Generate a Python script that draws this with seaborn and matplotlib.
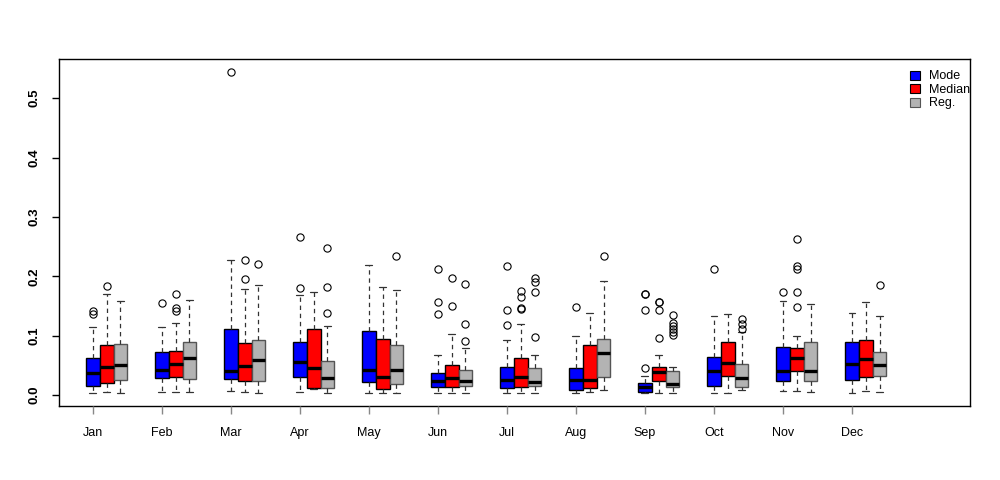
import matplotlib
matplotlib.use("Agg")
import matplotlib.pyplot as plt
from matplotlib.patches import Patch
import seaborn as sns

sns.set_style("ticks", {"axes.axisbelow": False})
plt.rcParams['font.family'] = ['Liberation Sans', 'DejaVu Sans']
plt.rcParams['text.color'] = 'black'
plt.rcParams['xtick.color'] = 'black'
plt.rcParams['ytick.color'] = 'black'

months = ["Jan", "Feb", "Mar", "Apr", "May", "Jun", "Jul", "Aug", "Sep", "Oct", "Nov", "Dec"]
series_names = ["Mode", "Median", "Reg."]
series_colors = ["#0000FF", "#FF0000", "#B3B3B3"]

# Mode
mode_lo = [0.003, 0.006, 0.007, 0.005, 0.003, 0.003, 0.003, 0.003, 0.004, 0.003, 0.007, 0.003]
mode_q1 = [0.016, 0.028, 0.027, 0.031, 0.022, 0.014, 0.012, 0.008, 0.006, 0.015, 0.024, 0.025]
mode_med = [0.038, 0.043, 0.041, 0.055, 0.042, 0.024, 0.025, 0.025, 0.013, 0.041, 0.041, 0.052]
mode_q3 = [0.062, 0.073, 0.112, 0.090, 0.108, 0.038, 0.047, 0.045, 0.021, 0.064, 0.081, 0.089]
mode_hi = [0.114, 0.114, 0.228, 0.168, 0.219, 0.068, 0.092, 0.100, 0.032, 0.134, 0.158, 0.139]
mode_out = [[0.142, 0.136], [0.155], [0.545], [0.181, 0.267], [], [0.137, 0.157, 0.212],
            [0.118, 0.144, 0.217], [0.149], [0.045, 0.143, 0.170, 0.171], [0.213], [0.173], []]

# Median
median_lo = [0.005, 0.006, 0.005, 0.010, 0.003, 0.003, 0.003, 0.005, 0.003, 0.003, 0.007, 0.007]
median_q1 = [0.020, 0.030, 0.023, 0.012, 0.010, 0.014, 0.014, 0.012, 0.024, 0.032, 0.041, 0.030]
median_med = [0.048, 0.053, 0.049, 0.046, 0.031, 0.029, 0.030, 0.025, 0.039, 0.054, 0.063, 0.060]
median_q3 = [0.084, 0.074, 0.088, 0.111, 0.094, 0.050, 0.063, 0.085, 0.048, 0.089, 0.080, 0.093]
median_hi = [0.170, 0.122, 0.178, 0.173, 0.182, 0.103, 0.119, 0.139, 0.067, 0.136, 0.099, 0.156]
median_out = [[0.184], [0.170, 0.147, 0.142], [0.228, 0.195], [], [], [0.150, 0.198],
              [0.145, 0.146, 0.166, 0.175], [], [0.097, 0.143, 0.157, 0.156], [],
              [0.148, 0.174, 0.218, 0.213, 0.263], []]

# Reg.
reg_lo = [0.003, 0.005, 0.003, 0.003, 0.003, 0.003, 0.003, 0.008, 0.004, 0.008, 0.005, 0.006]
reg_q1 = [0.025, 0.027, 0.023, 0.012, 0.018, 0.015, 0.015, 0.030, 0.014, 0.014, 0.024, 0.033]
reg_med = [0.051, 0.063, 0.059, 0.029, 0.042, 0.024, 0.022, 0.071, 0.019, 0.028, 0.040, 0.051]
reg_q3 = [0.086, 0.089, 0.093, 0.058, 0.084, 0.043, 0.046, 0.095, 0.040, 0.052, 0.089, 0.073]
reg_hi = [0.158, 0.161, 0.186, 0.117, 0.177, 0.079, 0.067, 0.192, 0.048, 0.106, 0.153, 0.133]
reg_out = [[], [], [0.221], [0.139, 0.182, 0.247], [0.235], [0.091, 0.119, 0.187],
           [0.098, 0.173, 0.191, 0.198], [0.235], [0.135, 0.121, 0.116, 0.111, 0.107, 0.102],
           [0.128, 0.120, 0.111], [], [0.185]]

y_ticks = [0.0, 0.1, 0.2, 0.3, 0.4, 0.5]

series = [
    (mode_lo, mode_q1, mode_med, mode_q3, mode_hi, mode_out),
    (median_lo, median_q1, median_med, median_q3, median_hi, median_out),
    (reg_lo, reg_q1, reg_med, reg_q3, reg_hi, reg_out),
]

fig = plt.figure(figsize=(10, 4.8), dpi=100)
ax = fig.add_axes([0.059, 0.154, 0.911, 0.723])

box_w = 0.2
for s, (lo, q1, med, q3, hi, out) in enumerate(series):
    stats = []
    for i in range(len(months)):
        stats.append(dict(whislo=lo[i], q1=q1[i], med=med[i], q3=q3[i], whishi=hi[i], fliers=out[i]))
    positions = [i + s * box_w for i in range(len(months))]
    edge = "#000000" if s < 2 else "#555555"
    ax.bxp(stats, positions=positions, widths=box_w, patch_artist=True,
           showfliers=True, manage_ticks=False,
           boxprops=dict(facecolor=series_colors[s], edgecolor=edge, linewidth=1.0),
           medianprops=dict(color="black", linewidth=2.4, solid_capstyle="butt"),
           whiskerprops=dict(color="#333333", linewidth=0.9, linestyle=(0, (3.5, 3))),
           capprops=dict(color="#333333", linewidth=0.9),
           capwidths=box_w * 0.5,
           flierprops=dict(marker="o", markersize=5.2, markerfacecolor="none",
                           markeredgecolor="black", markeredgewidth=0.8, linestyle="none"))

ax.set_xlim(-0.49, 12.71)
ax.set_ylim(-0.0185, 0.566)

ax.set_xticks(range(len(months)))
ax.set_xticklabels(months, fontsize=9)
ax.set_yticks(y_ticks)
ax.set_yticklabels([f"{v:.1f}" for v in y_ticks], fontsize=9.5, rotation=90, va="center",
                   fontweight="bold")
ax.tick_params(axis="x", which="major", direction="out", length=6, width=1.0,
               color="#888888", pad=9, bottom=True)
# y tick marks drawn as short lines outside the left spine at the tick values
ax.tick_params(axis="y", which="major", length=0, pad=13, left=True)
ax.hlines(y_ticks, -0.008, 0.0, transform=ax.get_yaxis_transform(), clip_on=False,
          colors="black", linewidth=1.0, zorder=5)
for t in ax.xaxis.get_major_ticks():
    t.tick1line.set_clip_on(False)

for sp in ax.spines.values():
    sp.set_visible(True)
    sp.set_color("black")
    sp.set_linewidth(1.0)

handles = [Patch(facecolor=c, edgecolor="black" if k < 2 else "#555555", linewidth=0.8)
           for k, c in enumerate(series_colors)]
ax.legend(handles, series_names, loc="upper left", bbox_to_anchor=(0.927, 0.985),
          frameon=False, fontsize=9, borderpad=0, handlelength=0.85, handleheight=0.75,
          handletextpad=0.7, labelspacing=0.12)

fig.savefig("out.png", dpi=100)
